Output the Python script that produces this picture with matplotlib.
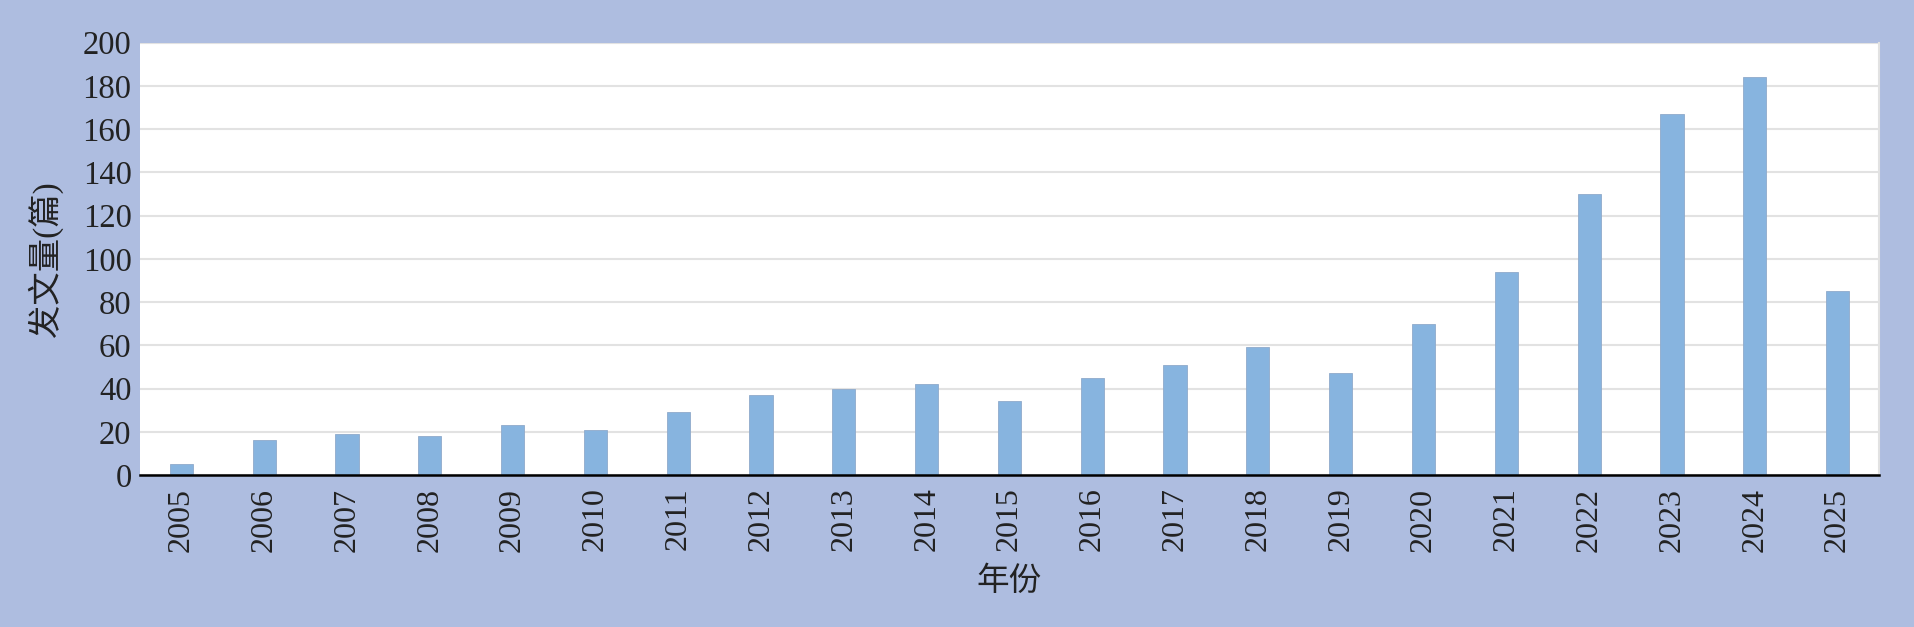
import numpy as np
import matplotlib
matplotlib.use("Agg")
import matplotlib.pyplot as plt

years = [str(y) for y in range(2005, 2026)]
counts = [5, 16, 19, 18, 23, 21, 29, 37, 40, 42, 34, 45, 51, 59, 47, 70, 94, 130, 167, 184, 85]
yticks = [0, 20, 40, 60, 80, 100, 120, 140, 160, 180, 200]

bg = "#AEBDE0"
bar_color = "#87B4DF"
fonts = ["Liberation Serif", "Noto Sans CJK SC", "DejaVu Sans"]

fig = plt.figure(figsize=(19.14, 6.27), dpi=100, facecolor=bg)
ax = fig.add_axes([0.0731, 0.2424, 0.9086, 0.6898])
ax.set_facecolor("white")

x = np.arange(len(years))
ax.bar(x, counts, width=0.28, color=bar_color, edgecolor="#8FAACB", linewidth=0.6, zorder=3)

ax.set_xlim(-0.5, len(years) - 0.5)
ax.set_ylim(0, 200)
ax.set_yticks(yticks)
ax.set_xticks(x)
ax.set_xticklabels(years, rotation=90, family=fonts, fontsize=23, color="#222222")
ax.set_yticklabels([str(v) for v in yticks], family=fonts, fontsize=23.5, color="#222222")
ax.tick_params(axis="both", length=0)
ax.tick_params(axis="x", pad=9)
ax.tick_params(axis="y", pad=6)

ax.grid(axis="y", color="#E2E2E2", linewidth=1.5, zorder=0)
for s in ["top", "left"]:
    ax.spines[s].set_visible(False)
ax.spines["right"].set_color("#E2E2E2")
ax.spines["right"].set_linewidth(1.5)
ax.spines["bottom"].set_color("black")
ax.spines["bottom"].set_linewidth(1.8)
ax.spines["bottom"].set_zorder(4)

ax.set_ylabel("发文量(篇)", family=fonts, fontsize=24, color="#222222")
ax.yaxis.set_label_coords(-0.0546, 0.5)
ax.set_xlabel("年份", family=fonts, fontsize=23.5, color="#222222")
ax.xaxis.set_label_coords(0.5, -0.247)
ax.xaxis.label.set_va("center")
ax.yaxis.label.set_va("center")

fig.savefig("out.png", dpi=100, facecolor=bg)
